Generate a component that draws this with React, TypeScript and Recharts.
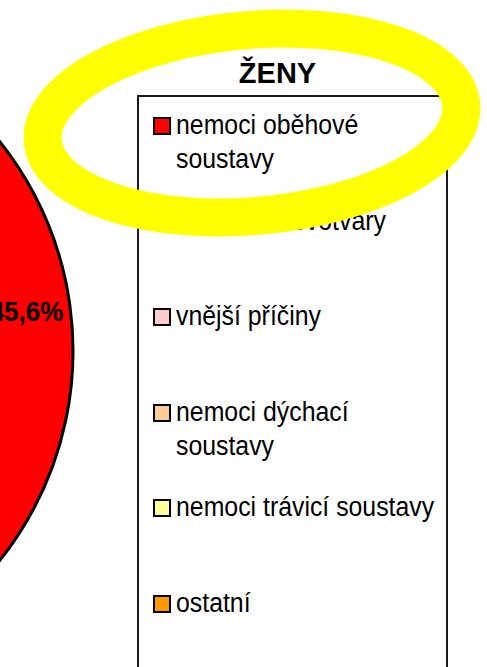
import React from 'react';
import { PieChart, Pie, Cell, Legend } from 'recharts';

// struktura příčin úmrtí – ženy (%)
const categories = [
  'nemoci oběhové soustavy',
  'zhoubné novotvary',
  'vnější příčiny',
  'nemoci dýchací soustavy',
  'nemoci trávicí soustavy',
  'ostatní',
];
const shares = [45.6, 24.1, 3.6, 6.4, 4.3, 16.0];
const colors = ['#FF0000', '#CC3366', '#FFCCCC', '#FFCC99', '#FFFF99', '#FF9900'];

const data = categories.map((name, i) => ({ name, value: shares[i], fill: colors[i] }));

const FONT = '"Liberation Sans", Arial, sans-serif';
const RAD = Math.PI / 180;

const renderLabel = (props: any) => {
  const { cx, cy, midAngle, outerRadius, percent } = props;
  const r = outerRadius * 0.87;
  const x = cx + r * Math.cos(-midAngle * RAD);
  const y = cy + r * Math.sin(-midAngle * RAD);
  return (
    <text
      x={x}
      y={y}
      dy="0.35em"
      textAnchor="middle"
      fill="#000"
      fontSize={28}
      fontWeight="bold"
      fontFamily={FONT}
      transform={`translate(${x} 0) scale(0.93 1) translate(${-x} 0)`}
    >
      {(percent * 100).toFixed(1).replace('.', ',')}%
    </text>
  );
};

// legenda v rámečku, pořadí podle categories
const LegendBox = () => (
  <div
    style={{
      width: 311,
      height: 600,
      border: '2px solid #1a1a1a',
      boxSizing: 'border-box',
      paddingTop: 12,
      background: '#fff',
      fontFamily: FONT,
    }}
  >
    {categories.map((name, i) => (
      <div key={name} style={{ position: 'relative', height: 95.6 }}>
        <span
          style={{
            position: 'absolute',
            left: 14,
            top: 8,
            width: 18,
            height: 18,
            boxSizing: 'border-box',
            border: '2px solid #000',
            background: colors[i],
          }}
        />
        <span
          style={{
            position: 'absolute',
            left: 37,
            top: -1,
            width: 290,
            fontSize: 27,
            lineHeight: '34px',
            color: '#000',
            transform: 'scaleX(0.92)',
            transformOrigin: 'left top',
          }}
        >
          {name}
        </span>
      </div>
    ))}
  </div>
);

export default function App() {
  return (
    <div
      style={{
        position: 'absolute',
        left: 0,
        top: 0,
        width: 487,
        height: 667,
        overflow: 'hidden',
        background: '#fff',
        fontFamily: FONT,
      }}
    >
      <PieChart width={487} height={667} margin={{ top: 0, right: 0, bottom: 0, left: 0 }}>
        <Pie
          data={data}
          dataKey="value"
          nameKey="name"
          cx={-263}
          cy={351}
          outerRadius={336}
          startAngle={90}
          endAngle={-270}
          stroke="#000"
          strokeWidth={3}
          label={renderLabel}
          labelLine={false}
          isAnimationActive={false}
        >
          {data.map((d, i) => (
            <Cell key={i} fill={colors[i]} />
          ))}
        </Pie>
        <Legend
          layout="vertical"
          align="right"
          verticalAlign="top"
          content={LegendBox}
          wrapperStyle={{ left: 137, top: 95, right: 'auto', width: 311 }}
        />
      </PieChart>
      <svg
        width={487}
        height={667}
        style={{ position: 'absolute', left: 0, top: 0, pointerEvents: 'none' }}
      >
        <text
          x={277.5}
          y={83}
          textAnchor="middle"
          fontSize={29}
          fontWeight="bold"
          fontFamily={FONT}
          fill="#000"
        >
          ŽENY
        </text>
        <ellipse
          cx={252}
          cy={123}
          rx={210}
          ry={93}
          fill="none"
          stroke="#FFFF00"
          strokeWidth={38}
          transform="rotate(-5 252 123)"
        />
      </svg>
    </div>
  );
}
